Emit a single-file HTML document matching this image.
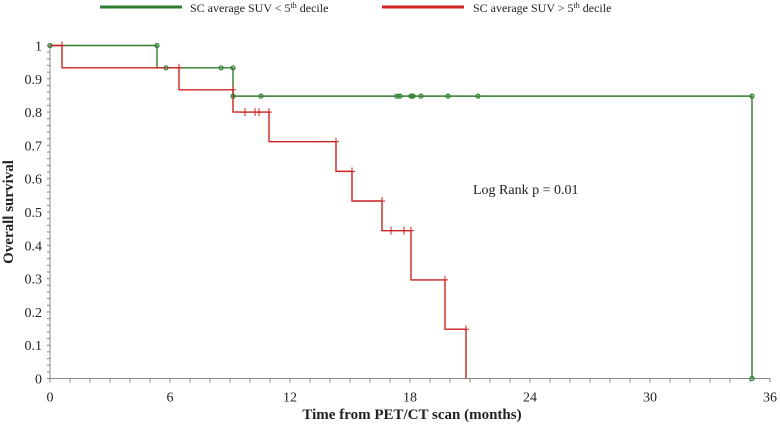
<!DOCTYPE html>
<html><head><meta charset="utf-8"><style>
body{margin:0;background:#fff}
svg text{font-family:"Liberation Serif",serif}
</style></head><body>
<svg id="chart" width="780" height="425">
<g>
<line x1="100" y1="7" x2="182" y2="7" stroke="#2e7d2e" stroke-width="3"/>
<text x="190" y="12" font-size="12" fill="#222">SC average SUV &lt; 5<tspan font-size="8" dy="-4">th</tspan><tspan dy="4"> decile</tspan></text>
<line x1="382" y1="7" x2="464" y2="7" stroke="#cc2222" stroke-width="3"/>
<text x="473" y="12" font-size="12" fill="#222">SC average SUV &gt; 5<tspan font-size="8" dy="-4">th</tspan><tspan dy="4"> decile</tspan></text>
</g>
<text x="473" y="194" font-size="14" fill="#222">Log Rank p = 0.01</text>
<text x="412" y="419" font-size="15" font-weight="bold" text-anchor="middle" fill="#222">Time from PET/CT scan (months)</text>
<text transform="translate(13,212) rotate(-90)" font-size="15" font-weight="bold" text-anchor="middle" fill="#222">Overall survival</text>
<g id="axes"></g>
<g id="series"></g>
</svg>
<script>
const xTicks=[0,6,12,18,24,30,36];
const yTicks=[0,0.1,0.2,0.3,0.4,0.5,0.6,0.7,0.8,0.9,1];
const yLabels=["0","0.1","0.2","0.3","0.4","0.5","0.6","0.7","0.8","0.9","1"];
const greenTimes=[0,5.35,9.15,35.1];
const greenSurv=[1,0.933,0.848,0];
const greenCensT=[0,5.35,5.8,8.55,9.15,9.15,10.55,17.35,17.5,18.05,18.15,18.55,19.9,21.4,35.1,35.1];
const greenCensS=[1,1,0.933,0.933,0.933,0.848,0.848,0.848,0.848,0.848,0.848,0.848,0.848,0.848,0.848,0];
const redTimes=[0,0.6,6.45,9.15,10.95,14.3,15.1,16.6,18.05,19.75,20.8];
const redSurv=[1,0.933,0.867,0.8,0.711,0.622,0.533,0.444,0.296,0.148,0];
const redTickT=[0.6,6.45,9.15,9.75,10.25,10.45,10.95,14.3,15.1,16.6,17.05,17.7,18.05,19.75,20.8];
const redTickS=[1,0.933,0.867,0.8,0.8,0.8,0.8,0.711,0.622,0.533,0.444,0.444,0.444,0.296,0.148];
const X=t=>50+t*20;
const Y=s=>378.5-s*333;
const NS="http://www.w3.org/2000/svg";
function mk(tag,attrs,parent){const e=document.createElementNS(NS,tag);for(const k in attrs)e.setAttribute(k,attrs[k]);parent.appendChild(e);return e;}
const ax=document.getElementById('axes'),se=document.getElementById('series');
let e=mk('line',{x1:X(0),y1:Y(0),x2:X(36),y2:Y(0),stroke:'#888'},ax);


e=mk('line',{x1:X(0),y1:Y(0),x2:X(0),y2:Y(1),stroke:'#888'},ax);


for(let m=0;m<=36;m++){mk('line',{x1:X(m),y1:Y(0),x2:X(m),y2:Y(0)+4,stroke:'#888'},ax);}
for(let i=0;i<=50;i++){mk('line',{x1:X(0)-3,y1:Y(i*0.02),x2:X(0),y2:Y(i*0.02),stroke:'#888'},ax);}
xTicks.forEach(t=>{const l=mk('text',{x:X(t),y:Y(0)+23,'font-size':14,'text-anchor':'middle',fill:'#222'},ax);l.textContent=t;

});
yTicks.forEach((v,i)=>{const l=mk('text',{x:X(0)-8,y:Y(v)+5,'font-size':14,'text-anchor':'end',fill:'#222'},ax);l.textContent=yLabels[i];

});
function step(times,surv,color){let d='M'+X(times[0])+','+Y(surv[0]);for(let i=1;i<times.length;i++){d+='H'+X(times[i])+'V'+Y(surv[i]);}return mk('path',{d:d,fill:'none',stroke:color,'stroke-width':1.4},se);}
e=step(greenTimes,greenSurv,'#2e7d2e');


e=step(redTimes,redSurv,'#cc2222');


redTickT.forEach((t,i)=>{const c=mk('path',{d:'M'+(X(t)-3)+','+Y(redTickS[i])+'h6M'+X(t)+','+(Y(redTickS[i])-4)+'v8',stroke:'#cc2222','stroke-width':1},se);

});
greenCensT.forEach((t,i)=>{const c=mk('circle',{cx:X(t),cy:Y(greenCensS[i]),r:2,fill:'none',stroke:'#2e7d2e','stroke-width':1.2},se);

});
</script>
</body></html>
